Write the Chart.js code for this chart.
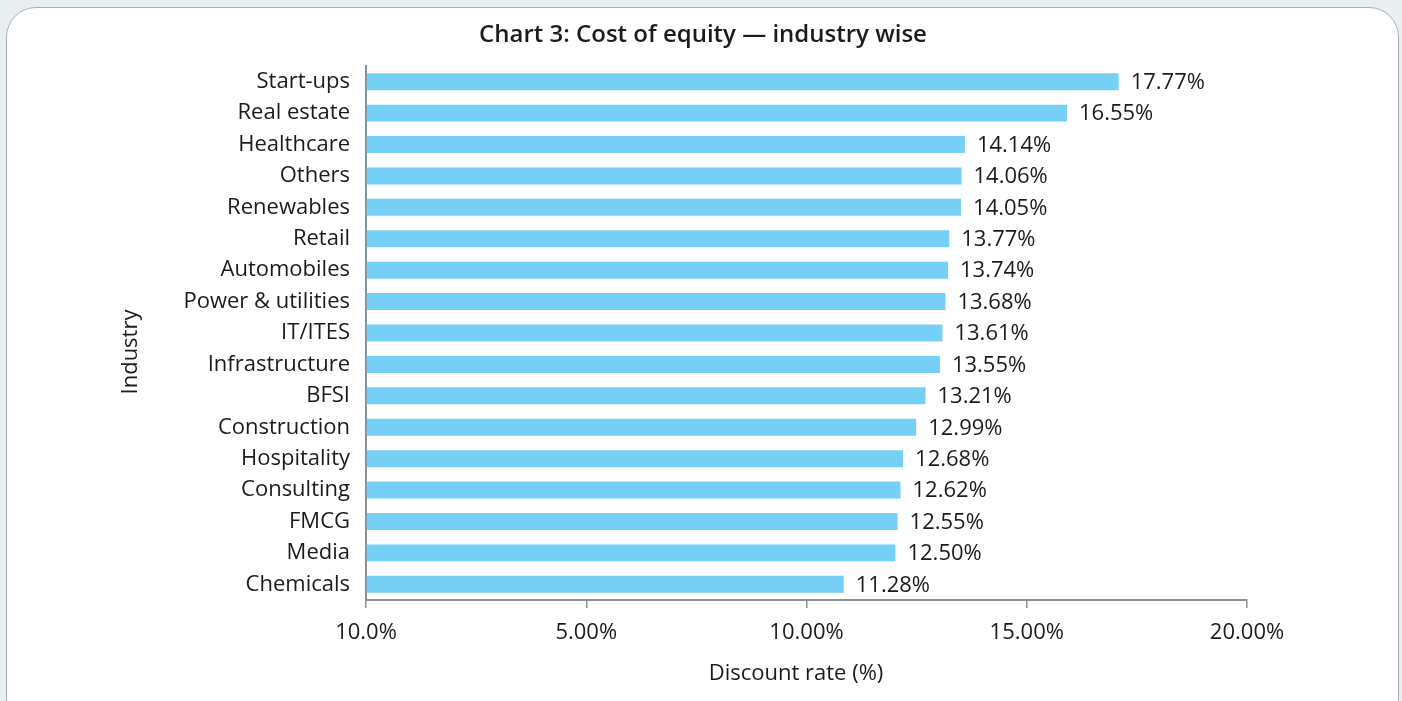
<!DOCTYPE html>
<html>
<head>
<meta charset="utf-8">
<script src="https://cdn.jsdelivr.net/npm/chart.js@4.4.1/dist/chart.umd.min.js"></script>
<style>
  html, body { margin: 0; padding: 0; background: #e9eef0; width: 1402px; height: 701px; overflow: hidden; }
  #box { position: absolute; left: 6px; top: 7px; width: 1391px; height: 720px; background: #ffffff;
         border: 1.5px solid #a9b0b4; border-radius: 30px; }
  #c { position: absolute; left: 0; top: 0; }
</style>
</head>
<body>
<div id="box"></div>
<canvas id="c" width="1402" height="701"></canvas>
<script>
const chartTitle = 'Chart 3: Cost of equity \u2014 industry wise';
const yAxisTitle = 'Industry';
const xAxisTitle = 'Discount rate (%)';
const categories = ['Start-ups', 'Real estate', 'Healthcare', 'Others', 'Renewables', 'Retail', 'Automobiles',
  'Power & utilities', 'IT/ITES', 'Infrastructure', 'BFSI', 'Construction', 'Hospitality', 'Consulting',
  'FMCG', 'Media', 'Chemicals'];
const values = [17.77, 16.55, 14.14, 14.06, 14.05, 13.77, 13.74, 13.68, 13.61, 13.55, 13.21, 12.99, 12.68,
  12.62, 12.55, 12.50, 11.28];
const tickValues = [0, 5.2, 10.4, 15.6, 20.8];
const tickLabels = ['10.0%', '5.00%', '10.00%', '15.00%', '20.00%'];

const FONT = '"Open Sans", sans-serif';
const TEXT = '#1b1b1b';
const AXIS = '#8a9095';

const textPlugin = {
  id: 'texts',
  afterDraw(chart) {
    const ctx = chart.ctx;
    ctx.save();
    ctx.fillStyle = TEXT;
    ctx.textAlign = 'center';
    ctx.textBaseline = 'middle';
    ctx.font = '600 24px ' + FONT;
    ctx.fillText(chartTitle, 703, 35);
    ctx.font = '22px ' + FONT;
    ctx.fillText(xAxisTitle, 796, 674);
    ctx.translate(131, 352);
    ctx.rotate(-Math.PI / 2);
    ctx.fillText(yAxisTitle, 0, 0);
    ctx.restore();
  }
};

const labelPlugin = {
  id: 'barLabels',
  afterDatasetsDraw(chart) {
    const ctx = chart.ctx;
    const meta = chart.getDatasetMeta(0);
    ctx.save();
    ctx.fillStyle = TEXT;
    ctx.font = '22px ' + FONT;
    ctx.textAlign = 'left';
    ctx.textBaseline = 'middle';
    meta.data.forEach((bar, i) => {
      ctx.fillText(values[i].toFixed(2) + '%', bar.x + 12, bar.y + 1);
    });
    ctx.restore();
  }
};

new Chart(document.getElementById('c'), {
  type: 'bar',
  data: {
    labels: categories,
    datasets: [{
      data: values,
      backgroundColor: '#76d0f6',
      borderWidth: 0,
      barPercentage: 0.54,
      categoryPercentage: 1.0
    }]
  },
  options: {
    indexAxis: 'y',
    responsive: false,
    animation: false,
    devicePixelRatio: 1,
    layout: { padding: { left: 0, right: 155, top: 66, bottom: 6 } },
    plugins: { legend: { display: false }, tooltip: { enabled: false }, title: { display: false } },
    scales: {
      x: {
        min: 0,
        max: 20.8,
        afterBuildTicks: (scale) => { scale.ticks = tickValues.map(v => ({ value: v })); },
        afterFit: (scale) => { scale.height = 95; },
        grid: { display: true, drawOnChartArea: false, drawTicks: true, tickLength: 8, color: AXIS, lineWidth: 1.5 },
        border: { display: true, color: AXIS, width: 2 },
        ticks: {
          padding: 12,
          color: TEXT,
          font: { family: FONT, size: 22 },
          maxRotation: 0,
          autoSkip: false,
          callback: (v, i) => tickLabels[i]
        }
      },
      y: {
        afterFit: (scale) => { scale.width = 366; },
        grid: { display: false, drawTicks: false },
        border: { display: true, color: AXIS, width: 2 },
        ticks: {
          padding: 16,
          color: TEXT,
          font: { family: FONT, size: 22 },
          autoSkip: false
        }
      }
    }
  },
  plugins: [textPlugin, labelPlugin]
});
</script>
</body>
</html>
